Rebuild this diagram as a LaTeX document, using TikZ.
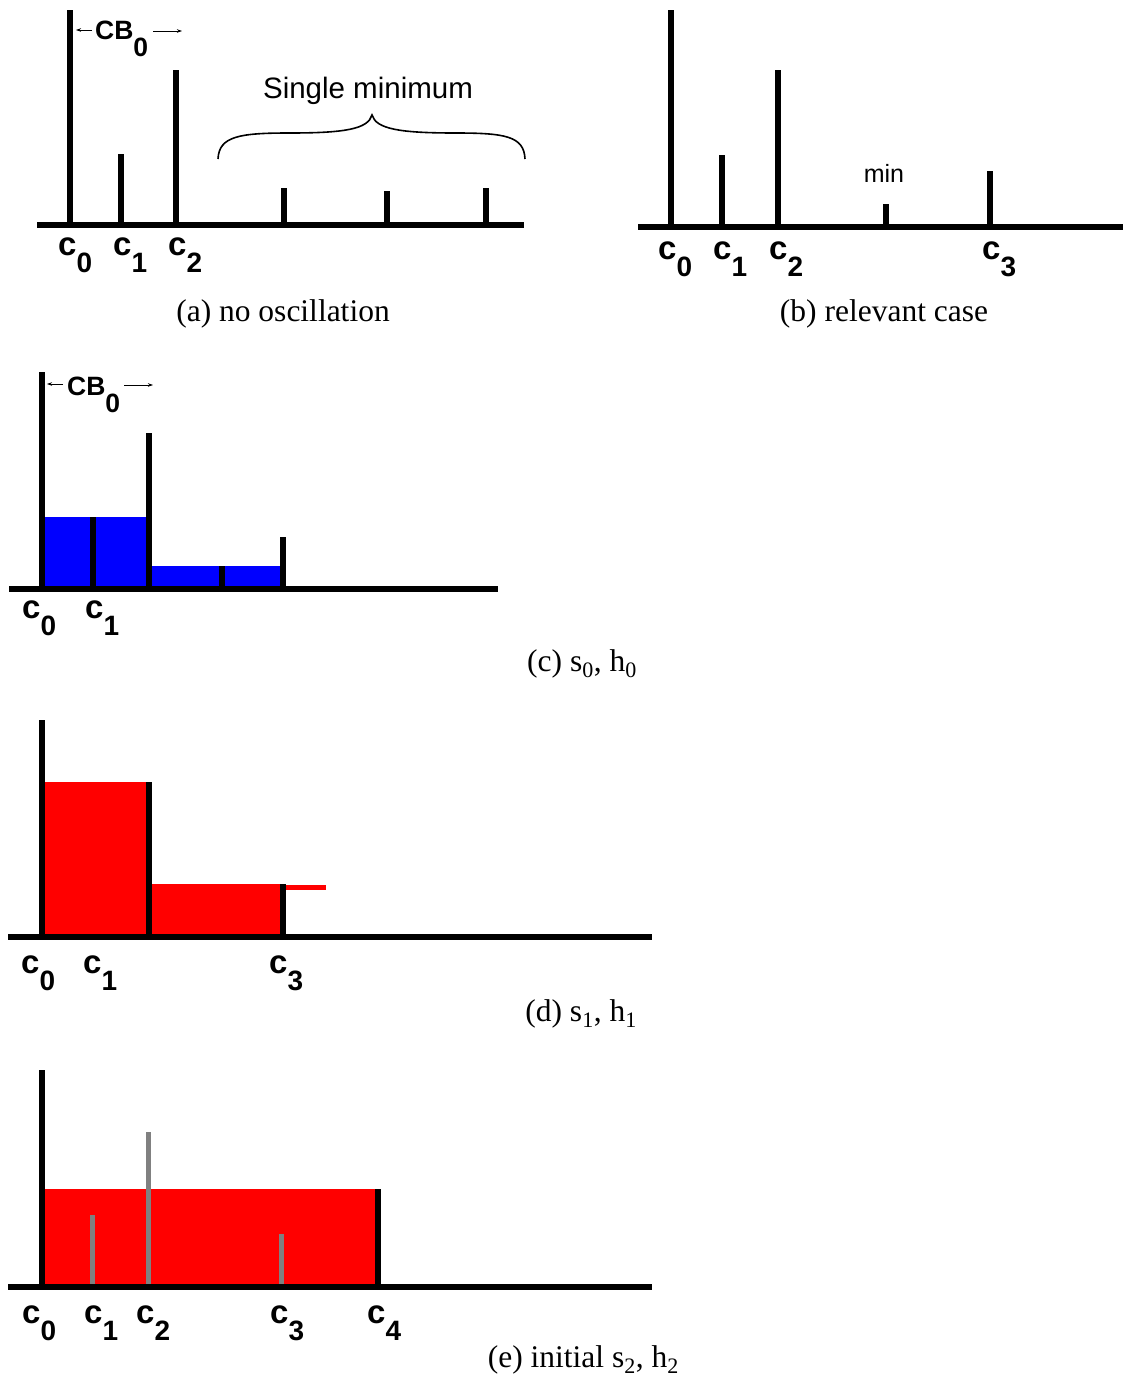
\documentclass[tikz,border=0pt]{standalone}
\usepackage{fontspec}
\setmainfont{Liberation Serif}
\setsansfont{Liberation Sans}
\usetikzlibrary{arrows.meta}
\newcommand{\clabtext}[1]{c\raisebox{-17pt}{\fontsize{28}{28}\selectfont #1}}
\newcommand{\cbtxt}{CB\raisebox{-17pt}{0}}
\begin{document}
\begin{tikzpicture}[x=1pt,y=-1pt,
  bar/.style={line width=6pt},
  axisline/.style={line width=6.5pt},
  graybar/.style={line width=5pt, draw=gray},
  clab/.style={anchor=base west, inner sep=0pt, font=\sffamily\bfseries\fontsize{33}{33}\selectfont},
  capt/.style={inner sep=0pt, font=\rmfamily\fontsize{31.5}{32}\selectfont},
  cbtext/.style={anchor=base west, inner sep=0pt, font=\sffamily\bfseries\fontsize{26.5}{26.5}\selectfont},
  cbarrow/.style={line width=0.8pt, -{Stealth[length=5pt,width=3.5pt]}},
  bracepath/.style={line width=1.6pt}]
\useasboundingbox (0,0) rectangle (1123,1378);

% ---------------- (a) no oscillation ----------------
\draw[bar] (70,225) -- (70,10);
\draw[bar] (121,225) -- (121,154);
\draw[bar] (176,225) -- (176,70);
\draw[bar] (284,225) -- (284,188);
\draw[bar] (387,225) -- (387,191);
\draw[bar] (486,225) -- (486,188);
\draw[axisline] (37,225) -- (524,225);
\node[clab] (a0) at (58,255) {\clabtext{0}};
\node[clab] (a1) at (113,255) {\clabtext{1}};
\node[clab] (a2) at (168,255) {\clabtext{2}};
\node[cbtext] (cba) at (95,40) {\cbtxt};
\coordinate (cbaL1) at (92,30);
\coordinate (cbaL2) at (76,30);
\coordinate (cbaR1) at (153,31);
\coordinate (cbaR2) at (182,31);
\draw[cbarrow] (cbaL1) -- (cbaL2);
\draw[cbarrow] (cbaR1) -- (cbaR2);
\draw[bracepath] (218,159) .. controls (219,136) and (240,133) .. (290,133)
  .. controls (345,133) and (368,129) .. (372,115)
  .. controls (376,129) and (400,133) .. (455,133)
  .. controls (505,133) and (524,136) .. (525,159);
\node[inner sep=0pt, font=\sffamily\fontsize{29.5}{29.5}\selectfont] (single) at (368,91) {Single minimum};
\node[capt] (capa) at (283,314) {(a) no oscillation};

% ---------------- (b) relevant case ----------------
\draw[bar] (671,227) -- (671,10);
\draw[bar] (722,227) -- (722,155);
\draw[bar] (778,227) -- (778,70);
\draw[bar] (886,227) -- (886,204);
\draw[bar] (990,227) -- (990,171);
\draw[axisline] (638,227) -- (1123,227);
\node[clab] (b0) at (658,259) {\clabtext{0}};
\node[clab] (b1) at (713,259) {\clabtext{1}};
\node[clab] (b2) at (769,259) {\clabtext{2}};
\node[clab] (b3) at (982,259) {\clabtext{3}};
\node[inner sep=0pt, font=\sffamily\fontsize{25}{25}\selectfont] (minlab) at (884,173) {min};
\node[capt] (capb) at (884,314) {(b) relevant case};

% ---------------- (c) s0, h0 ----------------
\fill[blue] (42,517) rectangle (149,589);
\fill[blue] (149,566) rectangle (283,589);
\draw[bar] (42,589) -- (42,372);
\draw[bar] (93,589) -- (93,517);
\draw[bar] (149,589) -- (149,433);
\draw[bar] (222,589) -- (222,566);
\draw[bar] (283,589) -- (283,537);
\draw[axisline] (9,589) -- (498,589);
\node[clab] (c0) at (22,618) {\clabtext{0}};
\node[clab] (c1) at (85,618) {\clabtext{1}};
\node[cbtext] (cbc) at (67,395) {\cbtxt};
\coordinate (cbcL1) at (63,384);
\coordinate (cbcL2) at (47,384);
\coordinate (cbcR1) at (124,385);
\coordinate (cbcR2) at (153,385);
\draw[cbarrow] (cbcL1) -- (cbcL2);
\draw[cbarrow] (cbcR1) -- (cbcR2);
\node[capt, anchor=east] (capc) at (637,664) {(c) s\textsubscript{0}, h\textsubscript{0}};

% ---------------- (d) s1, h1 ----------------
\fill[red] (42,782) rectangle (149,937);
\fill[red] (149,884) rectangle (283,937);
\draw[red, line width=5pt] (283,887) -- (326,887);
\draw[bar] (42,937) -- (42,720);
\draw[bar] (149,937) -- (149,782);
\draw[bar] (283,937) -- (283,884);
\draw[axisline] (8,937) -- (652,937);
\node[clab] (d0) at (21,973) {\clabtext{0}};
\node[clab] (d1) at (83,973) {\clabtext{1}};
\node[clab] (d3) at (269,973) {\clabtext{3}};
\node[capt, anchor=east] (capd) at (637,1014) {(d) s\textsubscript{1}, h\textsubscript{1}};

% ---------------- (e) initial s2, h2 ----------------
\fill[red] (42,1189) rectangle (378,1287);
\draw[graybar] (92,1287) -- (92,1215);
\draw[graybar] (148,1287) -- (148,1132);
\draw[graybar] (281,1287) -- (281,1234);
\draw[bar] (42,1287) -- (42,1070);
\draw[bar] (378,1287) -- (378,1189);
\draw[axisline] (8,1287) -- (652,1287);
\node[clab] (e0) at (22,1323) {\clabtext{0}};
\node[clab] (e1) at (84,1323) {\clabtext{1}};
\node[clab] (e2) at (136,1323) {\clabtext{2}};
\node[clab] (e3) at (270,1323) {\clabtext{3}};
\node[clab] (e4) at (367,1323) {\clabtext{4}};
\node[capt, anchor=east] (cape) at (679,1360) {(e) initial s\textsubscript{2}, h\textsubscript{2}};
\end{tikzpicture}
\end{document}
